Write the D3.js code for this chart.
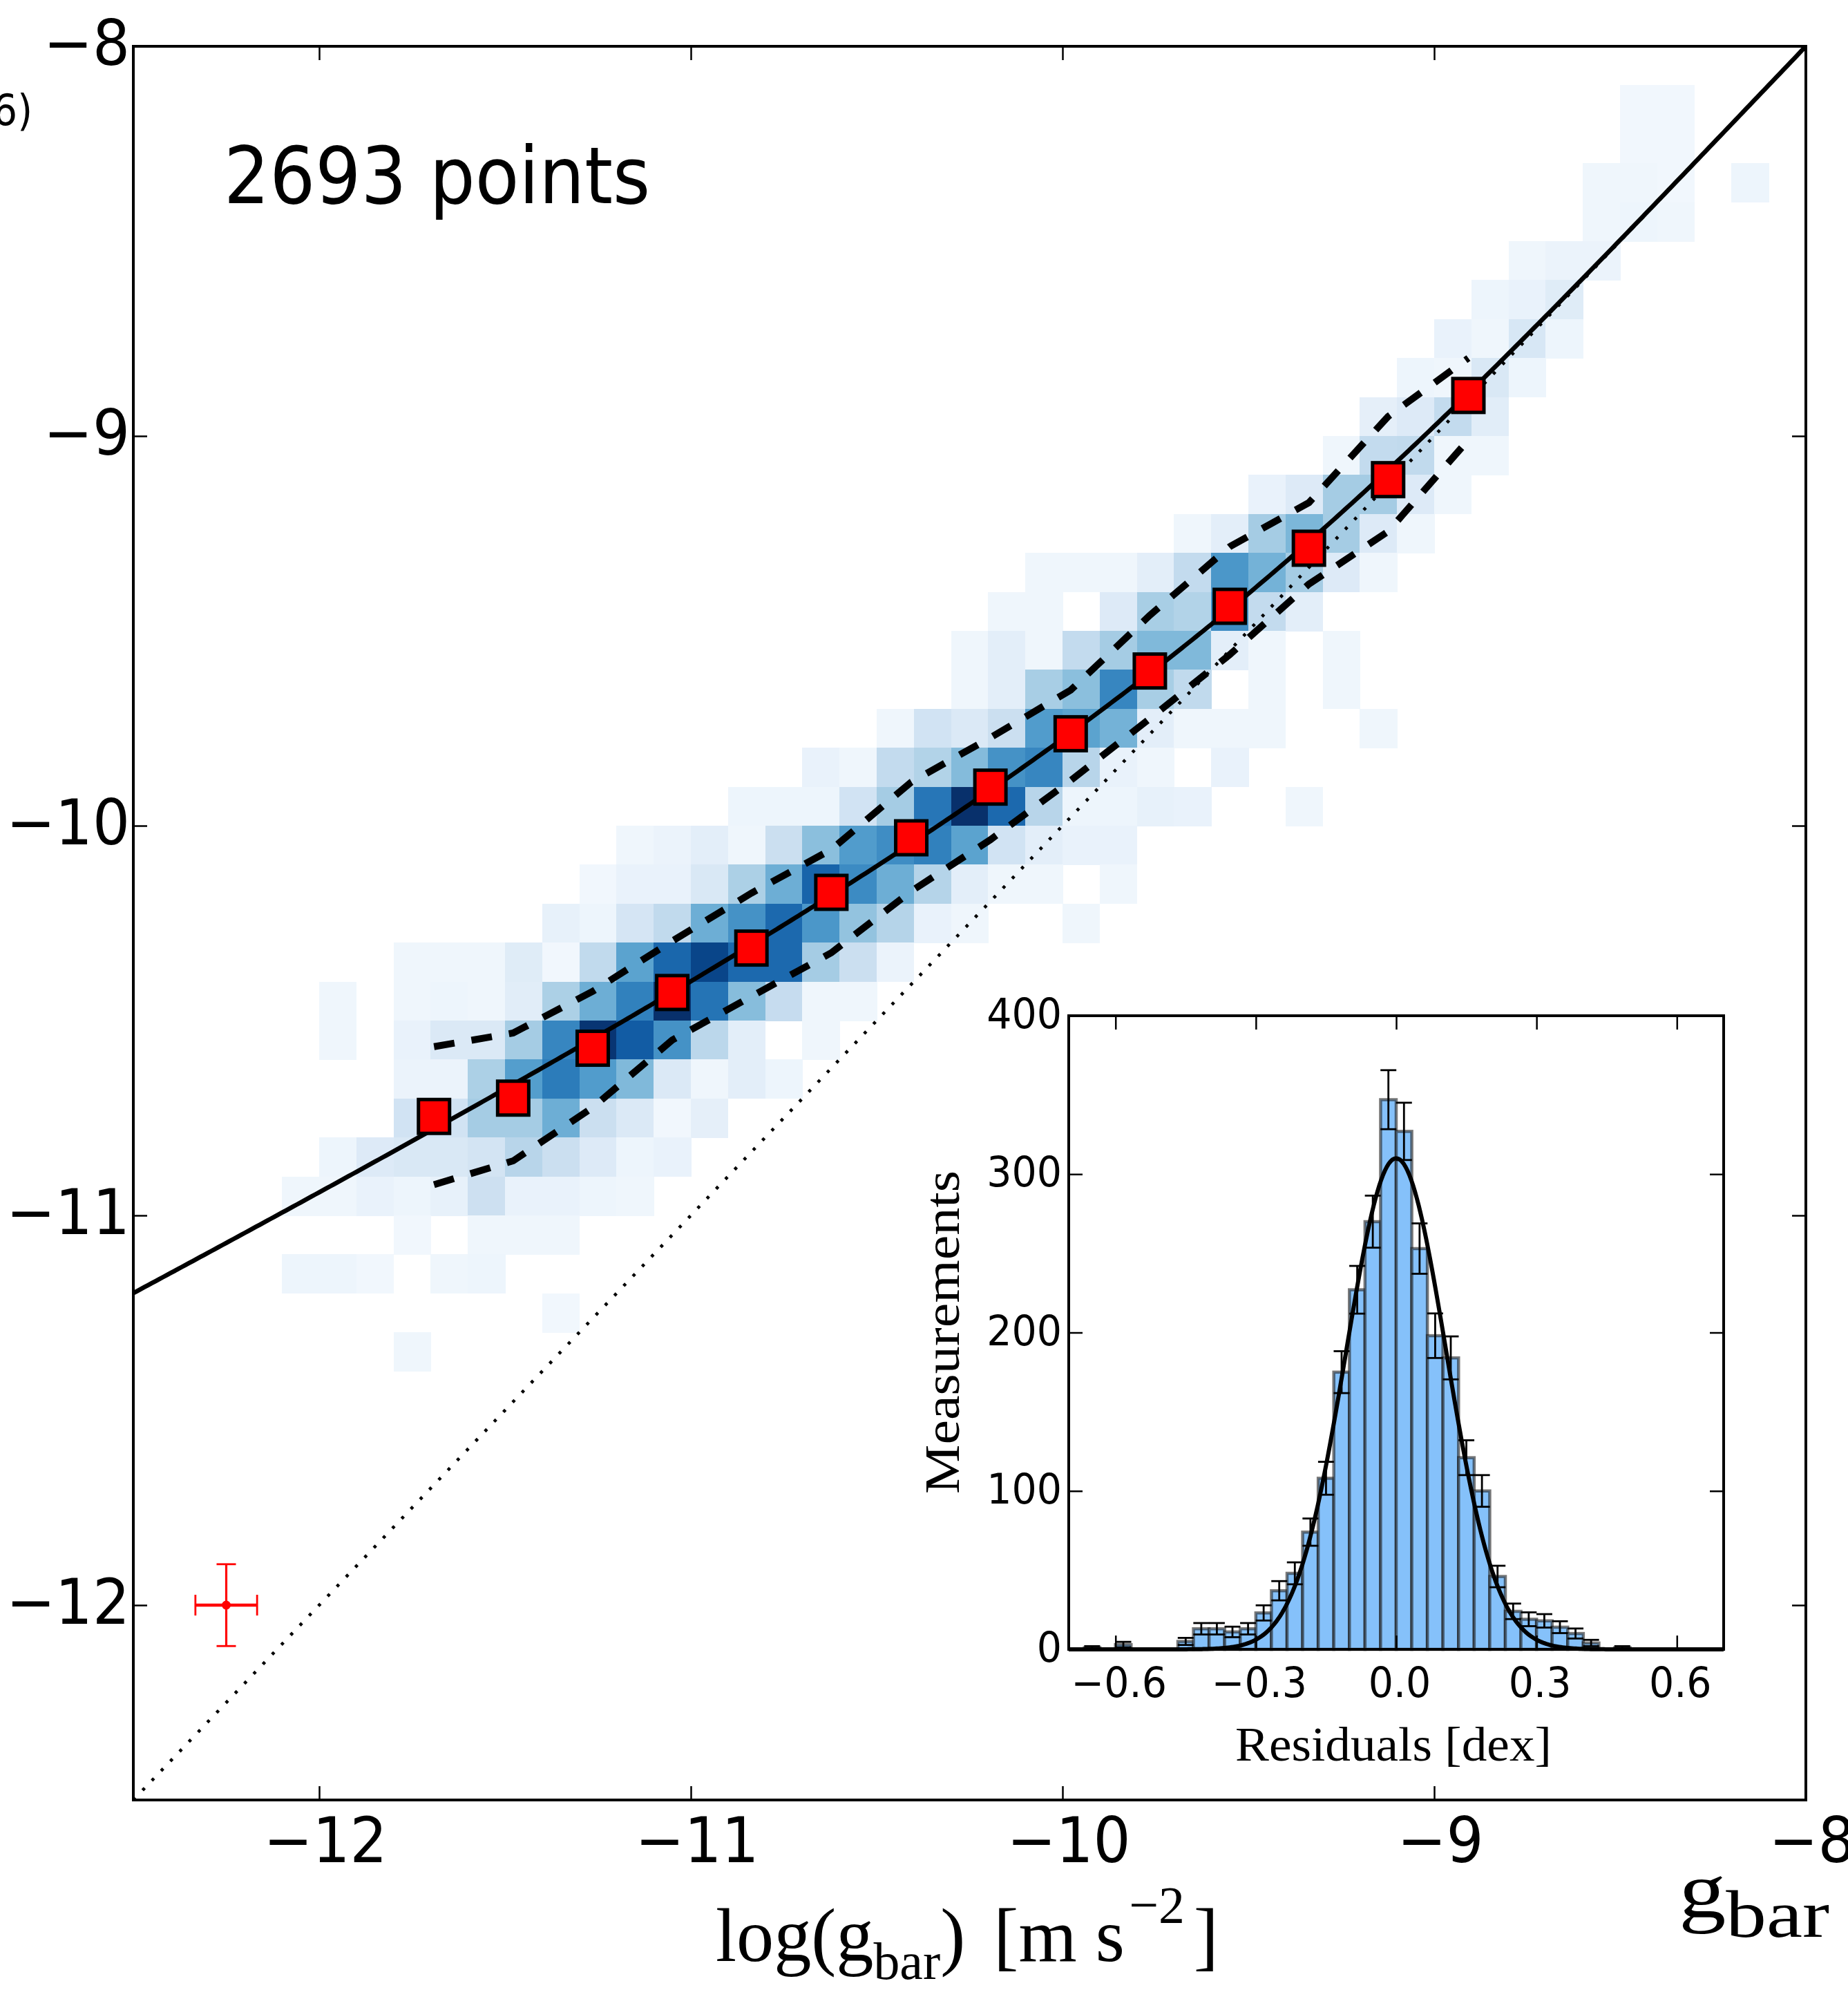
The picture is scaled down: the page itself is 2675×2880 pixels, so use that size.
<!DOCTYPE html>
<html>
<head>
<meta charset="utf-8">
<script src="https://cdnjs.cloudflare.com/ajax/libs/d3/7.8.5/d3.min.js"></script>
<style>
  html, body { margin: 0; padding: 0; background: #fff; overflow: hidden; }
  svg { display: block; }
</style>
</head>
<body>
<svg id="chart" width="2675" height="2880"></svg>
<script>
// ---------------- data ----------------
const pointCount = 2693;
const xTicks = [-12, -11, -10, -9, -8];
const yTicks = [-12, -11, -10, -9, -8];

// binned medians of log(g_obs) and the +/- 1 sigma scatter
const binX     = [-11.691, -11.478, -11.264, -11.050, -10.837, -10.622, -10.407, -10.194, -9.978, -9.765, -9.550, -9.337, -9.124, -8.908];
const binY     = [-10.746, -10.699, -10.571, -10.428, -10.314, -10.171, -10.031, -9.901, -9.764, -9.603, -9.437, -9.288, -9.112, -8.896];
const binUpper = [-10.567, -10.532, -10.425, -10.296, -10.173, -10.061, -9.888, -9.774, -9.652, -9.460, -9.284, -9.171, -8.950, -8.800];
const binLower = [-10.921, -10.860, -10.723, -10.550, -10.438, -10.326, -10.168, -10.036, -9.884, -9.725, -9.561, -9.380, -9.245, -9.010];

// 2D density, 0.1 dex bins: [row lower edge (g_obs), first column left edge (g_bar), counts...]
const binSize = 0.1;
const densityRows = [
  [-8.2,  -8.5,  [3, 3]],
  [-8.3,  -8.5,  [3, 3]],
  [-8.4,  -8.6,  [4, 4, 3, 0, 5]],
  [-8.5,  -8.6,  [4, 5, 4]],
  [-8.6,  -8.8,  [4, 6, 6]],
  [-8.7,  -8.9,  [5, 7, 12]],
  [-8.8,  -9.0,  [7, 4, 16, 5]],
  [-8.9,  -9.1,  [5, 4, 15, 5]],
  [-9.0,  -9.2,  [9, 13, 25, 11]],
  [-9.1,  -9.3,  [4, 25, 26, 4, 4]],
  [-9.2,  -9.5,  [7, 13, 35, 35, 13, 4]],
  [-9.3,  -9.7,  [4, 10, 35, 46, 35, 13, 4]],
  [-9.4,  -10.1, [4, 4, 4, 10, 25, 60, 48, 35, 13, 4]],
  [-9.5,  -10.2, [4, 4, 0, 13, 34, 31, 64, 25, 10]],
  [-9.6,  -10.3, [4, 10, 4, 25, 35, 45, 45, 10, 4, 0, 4]],
  [-9.7,  -10.3, [4, 10, 34, 42, 67, 34, 26, 0, 4, 0, 4]],
  [-9.8,  -10.5, [4, 19, 14, 22, 58, 55, 48, 10, 4, 4, 4, 0, 0, 4]],
  [-9.9,  -10.7, [7, 4, 25, 31, 44, 62, 67, 29, 7, 4, 0, 7]],
  [-10.0, -10.9, [5, 5, 5, 19, 35, 73, 100, 78, 29, 5, 5, 8, 7, 0, 0, 4]],
  [-10.1, -11.2, [4, 6, 10, 4, 22, 42, 58, 64, 69, 55, 19, 10, 7, 7]],
  [-10.2, -11.3, [3, 7, 7, 15, 33, 50, 80, 65, 50, 30, 10, 4, 4, 0, 4]],
  [-10.3, -11.4, [8, 5, 17, 26, 50, 62, 78, 60, 40, 30, 7, 4, 0, 0, 4]],
  [-10.4, -11.8, [4, 4, 4, 12, 3, 26, 55, 79, 92, 78, 78, 35, 22, 6]],
  [-10.5, -12.0, [4, 0, 4, 5, 4, 11, 33, 50, 69, 100, 74, 43, 24, 4, 4]],
  [-10.6, -12.0, [4, 0, 7, 14, 14, 35, 67, 98, 83, 62, 28, 10, 0, 4]],
  [-10.7, -11.8, [6, 6, 33, 57, 71, 58, 45, 14, 4, 10, 5]],
  [-10.8, -11.8, [19, 19, 35, 35, 50, 22, 14, 3, 9]],
  [-10.9, -12.0, [5, 13, 15, 15, 18, 29, 22, 13, 5, 7]],
  [-11.0, -12.1, [4, 4, 7, 5, 8, 21, 7, 7, 5, 4]],
  [-11.1, -11.8, [3, 0, 4, 4, 4]],
  [-11.2, -12.1, [5, 5, 3, 0, 4, 5]],
  [-11.3, -11.4, [3]],
  [-11.4, -11.8, [4]]
];
const densityMax = 100;

// acceleration scale of the fitted relation [m s^-2]
const gDagger = 1.2e-10;

// typical uncertainty of a single point
const errCentre = [-12.25, -12.0];
const errX = 0.083;
const errY = 0.105;

// residual histogram: 42 bins of 1/30 dex from -0.7
const residStart = -0.7;
const residWidth = 1 / 30;
const residCounts = [0, 1, 0, 3, 0, 0, 0, 5, 13, 13, 11, 13, 23, 37, 48, 74, 108, 175, 227, 270,
                     347, 327, 253, 198, 184, 121, 100, 46, 24, 19, 18, 14, 10, 4, 0, 1, 0, 0, 0, 0, 0, 0];
const gaussAmp = 310;
const gaussMu = 0.0;
const gaussSigma = 0.107;
const residTicks = [-0.6, -0.3, 0.0, 0.3, 0.6];
const countTicks = [0, 100, 200, 300, 400];

// ---------------- drawing ----------------
const SANS = "'DejaVu Sans', sans-serif";
const SERIF = "'Liberation Serif', 'DejaVu Serif', serif";
const svg = d3.select("#chart");

const M = { left: 193, right: 2614, top: 67, bottom: 2605 };
const x = d3.scaleLinear().domain([-12.5, -8]).range([M.left, M.right]);
const y = d3.scaleLinear().domain([-12.5, -8]).range([M.bottom, M.top]);

svg.append("defs").append("clipPath").attr("id", "mainClip")
  .append("rect").attr("x", M.left).attr("y", M.top)
  .attr("width", M.right - M.left).attr("height", M.bottom - M.top);

const plot = svg.append("g").attr("clip-path", "url(#mainClip)");

// density cells
const blues = d3.scaleSequential(d3.interpolateBlues).domain([0, densityMax]);
const cells = [];
densityRows.forEach(([yb, xs, counts]) => {
  counts.forEach((c, i) => {
    if (c > 0) cells.push({ x0: +(xs + i * binSize).toFixed(2), y0: yb, c });
  });
});
plot.append("g").attr("shape-rendering", "crispEdges")
  .selectAll("rect").data(cells).join("rect")
  .attr("x", d => x(d.x0))
  .attr("y", d => y(d.y0 + binSize))
  .attr("width", d => x(d.x0 + binSize) - x(d.x0) + 0.6)
  .attr("height", d => y(d.y0) - y(d.y0 + binSize) + 0.6)
  .attr("fill", d => blues(d.c));

// one-to-one line
const line = d3.line().x(d => x(d[0])).y(d => y(d[1]));
plot.append("path")
  .attr("d", line([[-12.5, -12.5], [-8, -8]]))
  .attr("fill", "none").attr("stroke", "#000")
  .attr("stroke-width", 4.6).attr("stroke-dasharray", "4.4,15");

// fitted relation g_obs = g_bar / (1 - exp(-sqrt(g_bar / g_dagger)))
const rar = lg => {
  const g = Math.pow(10, lg);
  return Math.log10(g / (1 - Math.exp(-Math.sqrt(g / gDagger))));
};
const fitPts = d3.range(-12.5, -7.999, 0.01).map(v => [v, rar(v)]);
plot.append("path")
  .attr("d", line(fitPts))
  .attr("fill", "none").attr("stroke", "#000").attr("stroke-width", 6.5);

// scatter envelopes
[binUpper, binLower].forEach(arr => {
  plot.append("path")
    .attr("d", line(binX.map((v, i) => [v, arr[i]])))
    .attr("fill", "none").attr("stroke", "#000")
    .attr("stroke-width", 10).attr("stroke-dasharray", "30,25");
});

// binned points
plot.append("g").selectAll("rect").data(binX.map((v, i) => [v, binY[i]])).join("rect")
  .attr("x", d => x(d[0]) - 22.5).attr("y", d => y(d[1]) - 24.5)
  .attr("width", 45).attr("height", 49)
  .attr("fill", "#ff0000").attr("stroke", "#000").attr("stroke-width", 5);

// typical error bar
const eg = plot.append("g").attr("stroke", "#ff0000").attr("fill", "none");
const cx = x(errCentre[0]), cy = y(errCentre[1]);
eg.append("line").attr("x1", x(errCentre[0] - errX)).attr("x2", x(errCentre[0] + errX))
  .attr("y1", cy).attr("y2", cy).attr("stroke-width", 4.5);
eg.append("line").attr("x1", cx).attr("x2", cx)
  .attr("y1", y(errCentre[1] - errY)).attr("y2", y(errCentre[1] + errY)).attr("stroke-width", 3.2);
[errCentre[0] - errX, errCentre[0] + errX].forEach(v => {
  eg.append("line").attr("x1", x(v)).attr("x2", x(v)).attr("y1", cy - 15).attr("y2", cy + 15).attr("stroke-width", 2.8);
});
[errCentre[1] - errY, errCentre[1] + errY].forEach(v => {
  eg.append("line").attr("x1", cx - 14).attr("x2", cx + 14).attr("y1", y(v)).attr("y2", y(v)).attr("stroke-width", 2.8);
});
plot.append("circle").attr("cx", cx).attr("cy", cy).attr("r", 6.5).attr("fill", "#ff0000");

// main axes ticks (inward, mirrored)
const tickLen = 20;
function styleAxis(g) {
  g.select(".domain").remove();
  g.selectAll(".tick line").attr("stroke", "#000").attr("stroke-width", 2.5);
  g.selectAll(".tick text").remove();
}
svg.append("g").attr("transform", `translate(0,${M.bottom})`)
  .call(d3.axisBottom(x).tickValues(xTicks).tickSize(-tickLen)).call(styleAxis);
svg.append("g").attr("transform", `translate(0,${M.top})`)
  .call(d3.axisTop(x).tickValues(xTicks).tickSize(-tickLen)).call(styleAxis);
svg.append("g").attr("transform", `translate(${M.left},0)`)
  .call(d3.axisLeft(y).tickValues(yTicks).tickSize(-tickLen)).call(styleAxis);
svg.append("g").attr("transform", `translate(${M.right},0)`)
  .call(d3.axisRight(y).tickValues(yTicks).tickSize(-tickLen)).call(styleAxis);

svg.append("rect").attr("x", M.left).attr("y", M.top)
  .attr("width", M.right - M.left).attr("height", M.bottom - M.top)
  .attr("fill", "none").attr("stroke", "#000").attr("stroke-width", 4);

// text helper
function addText(parent, str, o) {
  return parent.append("text")
    .attr("transform", `translate(${o.x},${o.y}) scale(1,${o.sy || 1})`)
    .attr("font-family", o.family || SANS)
    .attr("font-size", o.size)
    .attr("text-anchor", o.anchor || "start")
    .attr("fill", "#000")
    .text(str);
}
const fmtInt = d3.format("d");
xTicks.forEach(t => addText(svg, fmtInt(t), { x: x(t) + 9, y: 2695, size: 85, anchor: "middle", sy: 1.07 }));
yTicks.forEach(t => addText(svg, fmtInt(t), { x: 188, y: y(t) + 27, size: 85, anchor: "end", sy: 1.07 }));

addText(svg, `${pointCount} points`, { x: 324, y: 294, size: 104, sy: 1.1 });
addText(svg, "(2016)", { x: 47, y: 181, size: 56, anchor: "end", sy: 1.1 });

// fit a text element horizontally between x0 and x1 at a baseline
function fitText(t, x0, x1, base, sy) {
  const bb = t.node().getBBox();
  const sx = (x1 - x0) / bb.width;
  t.attr("transform", `translate(${x0 - bb.x * sx},${base}) scale(${sx},${sy})`);
}

// main x label
const xl = svg.append("text").attr("font-family", SERIF).attr("font-size", 100).attr("fill", "#000");
xl.append("tspan").text("log(g");
xl.append("tspan").attr("font-size", 70).attr("dy", 24).text("bar");
xl.append("tspan").attr("dy", -24).text(")");
xl.append("tspan").attr("dx", 38).text("[m s");
xl.append("tspan").attr("font-size", 70).attr("dy", -50).attr("dx", 6).text("\u22122");
xl.append("tspan").attr("dy", 50).attr("dx", 12).text("]");
fitText(xl, 1036, 1764, 2838, 1.1);

// label at the lower right
const gl = svg.append("text").attr("font-family", SERIF).attr("font-size", 105).attr("fill", "#000");
gl.append("tspan").text("g");
gl.append("tspan").attr("font-size", 90).attr("dy", 26).text("bar");
fitText(gl, 2430, 2648, 2775, 1.08);

// ---------------- inset: residual histogram ----------------
const I = { left: 1547, right: 2495, top: 1470, bottom: 2387 };
const rx = d3.scaleLinear().domain([-0.7, 0.7]).range([I.left, I.right]);
const ry = d3.scaleLinear().domain([0, 400]).range([I.bottom, I.top]);
const inset = svg.append("g");
inset.append("rect").attr("x", I.left).attr("y", I.top)
  .attr("width", I.right - I.left).attr("height", I.bottom - I.top).attr("fill", "#fff");

const bins = residCounts.map((c, k) => ({ x0: residStart + k * residWidth, c }));
inset.append("g").selectAll("rect").data(bins.filter(b => b.c > 0)).join("rect")
  .attr("x", d => rx(d.x0)).attr("width", d => rx(d.x0 + residWidth) - rx(d.x0))
  .attr("y", d => ry(d.c)).attr("height", d => ry(0) - ry(d.c))
  .attr("fill", "#85c1fa").attr("stroke", "#1e1e1e").attr("stroke-opacity", 0.6).attr("stroke-width", 4.5);

const eb = inset.append("g").attr("stroke", "#000").attr("stroke-width", 2.8);
bins.filter(b => b.c > 0).forEach(b => {
  const xc = rx(b.x0 + residWidth / 2);
  const s = Math.sqrt(b.c);
  eb.append("line").attr("x1", xc).attr("x2", xc).attr("y1", ry(Math.max(0, b.c - s))).attr("y2", ry(b.c + s));
  eb.append("line").attr("x1", xc - 11.5).attr("x2", xc + 11.5).attr("y1", ry(b.c + s)).attr("y2", ry(b.c + s));
  eb.append("line").attr("x1", xc - 11.5).attr("x2", xc + 11.5).attr("y1", ry(b.c - s)).attr("y2", ry(b.c - s));
});

const gauss = v => gaussAmp * Math.exp(-0.5 * Math.pow((v - gaussMu) / gaussSigma, 2));
inset.append("path")
  .attr("d", d3.line().x(d => rx(d)).y(d => ry(gauss(d)))(d3.range(-0.7, 0.7001, 0.004)))
  .attr("fill", "none").attr("stroke", "#000").attr("stroke-width", 6);

inset.append("g").attr("transform", `translate(0,${I.bottom})`)
  .call(d3.axisBottom(rx).tickValues(residTicks).tickSize(-tickLen)).call(styleAxis);
inset.append("g").attr("transform", `translate(0,${I.top})`)
  .call(d3.axisTop(rx).tickValues(residTicks).tickSize(-tickLen)).call(styleAxis);
inset.append("g").attr("transform", `translate(${I.left},0)`)
  .call(d3.axisLeft(ry).tickValues(countTicks).tickSize(-tickLen)).call(styleAxis);
inset.append("g").attr("transform", `translate(${I.right},0)`)
  .call(d3.axisRight(ry).tickValues(countTicks).tickSize(-tickLen)).call(styleAxis);
inset.append("rect").attr("x", I.left).attr("y", I.top)
  .attr("width", I.right - I.left).attr("height", I.bottom - I.top)
  .attr("fill", "none").attr("stroke", "#000").attr("stroke-width", 4);

const fmt1 = d3.format(".1f");
residTicks.forEach(t => addText(inset, fmt1(t), { x: rx(t) + 5, y: 2456, size: 57, anchor: "middle", sy: 1.06 }));
countTicks.forEach(t => addText(inset, fmtInt(t), { x: 1537, y: ry(t) + 18, size: 57, anchor: "end", sy: 1.06 }));

const rl = inset.append("text").attr("font-family", SERIF).attr("font-size", 70).attr("fill", "#000").text("Residuals [dex]");
fitText(rl, 1788, 2246, 2548, 1.0);

const ml = inset.append("text").attr("font-family", SERIF).attr("font-size", 72).attr("fill", "#000")
  .attr("text-anchor", "middle").text("Measurements");
const mw = ml.node().getBBox().width;
ml.attr("transform", `translate(1388,1928) rotate(-90) scale(${468 / mw},1)`);
</script>
</body>
</html>
